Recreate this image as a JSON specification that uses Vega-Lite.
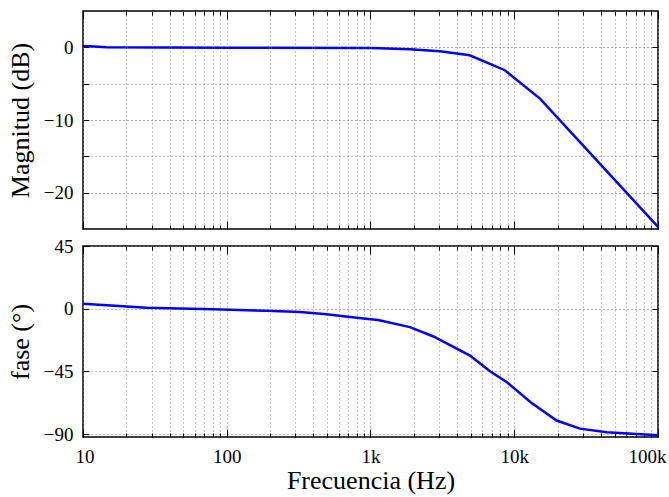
{
  "$schema": "https://vega.github.io/schema/vega-lite/v6.json",
  "background": "white",
  "padding": {"left": 6, "top": 9, "right": 3, "bottom": 2},
  "bounds": "flush",
  "spacing": 17,
  "config": {
    "font": "Liberation Serif",
    "view": {"stroke": "black", "strokeWidth": 1.5},
    "axis": {
      "labelFont": "Liberation Serif", "labelFontSize": 19, "labelColor": "black",
      "titleFont": "Liberation Serif", "titleFontSize": 26, "titleFontWeight": "normal", "titleColor": "black",
      "domain": false, "tickColor": "black", "tickWidth": 1,
      "gridColor": "#888888", "gridDash": [1, 3], "gridWidth": 1, "gridOpacity": 1
    }
  },
  "datasets": {
    "mag": [
      {"f": 10, "db": 0.2}, {"f": 12, "db": 0.1}, {"f": 14.5, "db": 0}, {"f": 100, "db": -0.05},
      {"f": 1000, "db": -0.1}, {"f": 1160, "db": -0.12}, {"f": 1880, "db": -0.25}, {"f": 3040, "db": -0.55},
      {"f": 4900, "db": -1.1}, {"f": 8600, "db": -3.15}, {"f": 15100, "db": -7.05}, {"f": 100000, "db": -24.7}
    ],
    "phase": [
      {"f": 10, "deg": 3.6}, {"f": 27.7, "deg": 0.7}, {"f": 80, "deg": -0.3}, {"f": 190, "deg": -1.5},
      {"f": 324, "deg": -2.4}, {"f": 495, "deg": -4.0}, {"f": 647, "deg": -5.4}, {"f": 1000, "deg": -7.6},
      {"f": 1130, "deg": -8.1}, {"f": 1880, "deg": -13.2}, {"f": 2740, "deg": -19.9}, {"f": 4920, "deg": -33.6},
      {"f": 6780, "deg": -44.8}, {"f": 8850, "deg": -52.6}, {"f": 13000, "deg": -67.0}, {"f": 19700, "deg": -80.2}, {"f": 28600, "deg": -86.0},
      {"f": 44000, "deg": -88.6}, {"f": 100000, "deg": -90.8}
    ]
  },
  "vconcat": [
    {
      "width": 575, "height": 218,
      "data": {"name": "mag"},
      "resolve": {"axis": {"x": "independent", "y": "independent"}},
      "layer": [
        {
          "mark": {"type": "line", "color": "#0000ff", "strokeWidth": 2.5},
          "encoding": {
            "x": {"field": "f", "type": "quantitative", "scale": {"type": "log", "domain": [10, 100000]},
              "axis": {"orient": "bottom", "values": [10,20,30,40,50,60,70,80,90,100,200,300,400,500,600,700,800,900,1000,2000,3000,4000,5000,6000,7000,8000,9000,10000,20000,30000,40000,50000,60000,70000,80000,90000,100000],
                "grid": true, "ticks": true, "tickSize": -4, "labels": false, "title": null}},
            "y": {"field": "db", "type": "quantitative", "scale": {"domain": [-25, 5]},
              "axis": {"orient": "left", "values": [-20, -10, 0], "grid": true, "ticks": false, "labelPadding": 10,
                "labelFont": "Liberation Serif", "labelFontSize": 19, "labelColor": "black",
                "title": "Magnitud (dB)", "titleFont": "Liberation Serif", "titleX": -55, "titleBaseline": "alphabetic"}}
          }
        },
        {
          "mark": {"type": "line", "strokeOpacity": 0},
          "encoding": {
            "x": {"field": "f", "type": "quantitative", "scale": {"type": "log", "domain": [10, 100000]},
              "axis": {"orient": "top", "values": [10,20,30,40,50,60,70,80,90,100,200,300,400,500,600,700,800,900,1000,2000,3000,4000,5000,6000,7000,8000,9000,10000,20000,30000,40000,50000,60000,70000,80000,90000,100000],
                "grid": false, "tickSize": -4, "labels": false, "title": null}},
            "y": {"field": "db", "type": "quantitative", "scale": {"domain": [-25, 5]},
              "axis": {"orient": "right", "values": [-20, -15, -10, -5, 0], "grid": false, "tickSize": -6, "labels": false, "title": null}}
          }
        },
        {
          "mark": {"type": "line", "strokeOpacity": 0},
          "encoding": {
            "x": {"field": "f", "type": "quantitative", "scale": {"type": "log", "domain": [10, 100000]},
              "axis": {"orient": "bottom", "values": [10, 100, 1000, 10000, 100000], "grid": false, "tickSize": -8, "labels": false, "title": null}},
            "y": {"field": "db", "type": "quantitative", "scale": {"domain": [-25, 5]},
              "axis": {"orient": "left", "values": [-20, -15, -10, -5, 0], "grid": true, "tickSize": -6, "labels": false, "title": null}}
          }
        },
        {
          "mark": {"type": "line", "strokeOpacity": 0},
          "encoding": {
            "x": {"field": "f", "type": "quantitative", "scale": {"type": "log", "domain": [10, 100000]},
              "axis": {"orient": "top", "values": [10, 100, 1000, 10000, 100000], "grid": false, "tickSize": -8, "labels": false, "title": null}},
            "y": {"field": "db", "type": "quantitative", "scale": {"domain": [-25, 5]}, "axis": null}
          }
        }
      ]
    },
    {
      "width": 575, "height": 191,
      "data": {"name": "phase"},
      "resolve": {"axis": {"x": "independent", "y": "independent"}},
      "layer": [
        {
          "mark": {"type": "line", "color": "#0000ff", "strokeWidth": 2.5},
          "encoding": {
            "x": {"field": "f", "type": "quantitative", "scale": {"type": "log", "domain": [10, 100000]},
              "axis": {"orient": "bottom", "values": [10,20,30,40,50,60,70,80,90,100,200,300,400,500,600,700,800,900,1000,2000,3000,4000,5000,6000,7000,8000,9000,10000,20000,30000,40000,50000,60000,70000,80000,90000,100000],
                "grid": true, "ticks": true, "tickSize": -4, "labels": false, "title": null}},
            "y": {"field": "deg", "type": "quantitative", "scale": {"domain": [-92, 45]},
              "axis": {"orient": "left", "values": [-90, -45, 0, 45], "grid": true, "ticks": false, "labelPadding": 10,
                "labelFont": "Liberation Serif", "labelFontSize": 19, "labelColor": "black",
                "title": "fase (°)", "titleFont": "Liberation Serif", "titleX": -55, "titleBaseline": "alphabetic"}}
          }
        },
        {
          "mark": {"type": "line", "strokeOpacity": 0},
          "encoding": {
            "x": {"field": "f", "type": "quantitative", "scale": {"type": "log", "domain": [10, 100000]},
              "axis": {"orient": "top", "values": [10,20,30,40,50,60,70,80,90,100,200,300,400,500,600,700,800,900,1000,2000,3000,4000,5000,6000,7000,8000,9000,10000,20000,30000,40000,50000,60000,70000,80000,90000,100000],
                "grid": false, "tickSize": -4, "labels": false, "title": null}},
            "y": {"field": "deg", "type": "quantitative", "scale": {"domain": [-92, 45]},
              "axis": {"orient": "right", "values": [-90, -45, 0, 45], "grid": false, "tickSize": -6, "labels": false, "title": null}}
          }
        },
        {
          "mark": {"type": "line", "strokeOpacity": 0},
          "encoding": {
            "x": {"field": "f", "type": "quantitative", "scale": {"type": "log", "domain": [10, 100000]},
              "axis": {"orient": "bottom", "values": [10, 100, 1000, 10000, 100000], "grid": false, "tickSize": -8, "labels": false, "title": null}},
            "y": {"field": "deg", "type": "quantitative", "scale": {"domain": [-92, 45]},
              "axis": {"orient": "left", "values": [-90, -45, 0, 45], "grid": false, "tickSize": -6, "labels": false, "title": null}}
          }
        },
        {
          "mark": {"type": "line", "strokeOpacity": 0},
          "encoding": {
            "x": {"field": "f", "type": "quantitative", "scale": {"type": "log", "domain": [10, 100000]},
              "axis": {"orient": "top", "values": [10, 100, 1000, 10000, 100000], "grid": false, "tickSize": -8, "labels": false, "title": null}},
            "y": {"field": "deg", "type": "quantitative", "scale": {"domain": [-92, 45]}, "axis": null}
          }
        },
        {
          "mark": {"type": "line", "strokeOpacity": 0},
          "encoding": {
            "x": {"field": "f", "type": "quantitative", "scale": {"type": "log", "domain": [10, 100000]},
              "axis": {"orient": "bottom", "values": [10, 100, 1000, 10000, 100000], "grid": false, "ticks": false, "labels": true,
                "labelFont": "Liberation Serif", "labelFontSize": 19, "labelColor": "black",
                "labelPadding": 10, "labelFlush": true, "labelFlushOffset": 8,
                "labelExpr": "datum.value >= 1000 ? (datum.value / 1000) + 'k' : '' + datum.value",
                "title": "Frecuencia (Hz)", "titleFont": "Liberation Serif", "titleY": 51, "titleBaseline": "alphabetic"}},
            "y": {"field": "deg", "type": "quantitative", "scale": {"domain": [-92, 45]}, "axis": null}
          }
        }
      ]
    }
  ]
}
